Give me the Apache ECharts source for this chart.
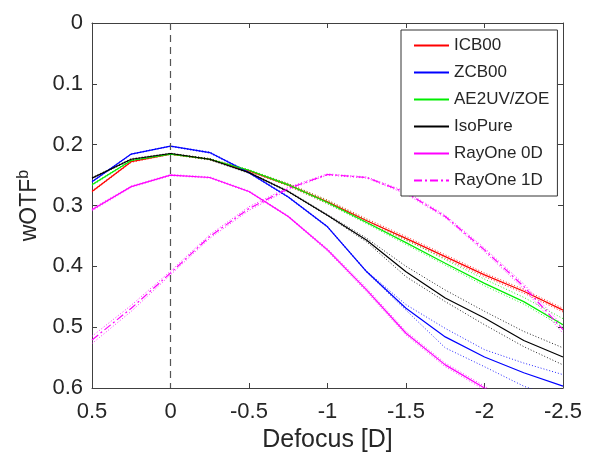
<!DOCTYPE html>
<html><head><meta charset="utf-8">
<script src="https://cdn.jsdelivr.net/npm/echarts@6/dist/echarts.min.js"></script>
<style>html,body{margin:0;padding:0;background:#fff}#c{width:596px;height:459px}</style>
</head><body><div id="c"></div>
<script>
const defocus = [0.5,0.25,0,-0.25,-0.5,-0.75,-1,-1.25,-1.5,-1.75,-2,-2.25,-2.5];
const xTicks = ['0.5','0','-0.5','-1','-1.5','-2','-2.5'];
const yTicks = ['0','0.1','0.2','0.3','0.4','0.5','0.6'];

const icb00      = [0.277,0.228,0.2155,0.224,0.243,0.266,0.294,0.325,0.354,0.384,0.414,0.441,0.472];
const icb00Hi    = [0.276,0.227,0.2150,0.223,0.242,0.264,0.291,0.322,0.351,0.381,0.411,0.438,0.469];
const icb00Lo    = [0.278,0.229,0.2160,0.225,0.244,0.268,0.297,0.328,0.357,0.387,0.417,0.444,0.475];

const zcb00      = [0.261,0.2155,0.2025,0.213,0.246,0.286,0.335,0.409,0.469,0.516,0.549,0.575,0.597];
const zcb00Hi    = [0.260,0.215,0.202,0.212,0.245,0.285,0.334,0.408,0.463,0.502,0.537,0.559,0.578];
const zcb00Lo    = [0.262,0.216,0.203,0.214,0.247,0.287,0.336,0.410,0.472,0.534,0.565,0.597,0.620];

const ae2uv      = [0.266,0.226,0.2155,0.224,0.242,0.266,0.295,0.328,0.361,0.395,0.428,0.458,0.496];
const ae2uvHi    = [0.265,0.225,0.215,0.223,0.241,0.264,0.292,0.324,0.356,0.389,0.421,0.451,0.486];
const ae2uvLo    = [0.267,0.227,0.216,0.225,0.243,0.267,0.297,0.330,0.364,0.398,0.432,0.462,0.500];

const isoPure    = [0.255,0.224,0.2145,0.224,0.246,0.277,0.316,0.357,0.409,0.452,0.485,0.522,0.549];
const isoPureHi  = [0.254,0.223,0.214,0.223,0.245,0.276,0.315,0.354,0.400,0.439,0.474,0.507,0.534];
const isoPureLo  = [0.256,0.225,0.215,0.225,0.247,0.278,0.317,0.360,0.417,0.458,0.496,0.532,0.562];

const rayOne0D   = [0.307,0.269,0.250,0.254,0.277,0.318,0.373,0.439,0.510,0.562,0.600,0.640,0.680];
const rayOne0DHi = [0.305,0.268,0.249,0.253,0.276,0.317,0.371,0.436,0.507,0.559,0.597,0.637,0.677];
const rayOne0DLo = [0.309,0.270,0.251,0.255,0.278,0.319,0.375,0.442,0.513,0.565,0.603,0.643,0.683];

const rayOne1D   = [0.521,0.469,0.411,0.351,0.305,0.272,0.249,0.254,0.279,0.318,0.373,0.433,0.504];
const rayOne1DHi = [0.515,0.464,0.408,0.348,0.302,0.270,0.248,0.253,0.277,0.316,0.370,0.429,0.498];
const rayOne1DLo = [0.527,0.474,0.414,0.354,0.308,0.274,0.250,0.255,0.281,0.320,0.376,0.437,0.510];

const pairs = (ys) => defocus.map((x,i)=>[x,ys[i]]);
const font = 'Liberation Sans, Arial, sans-serif';
const axisColor = '#404040';
const textColor = '#262626';

function mainLine(name, data, color, type){
  return {name, type:'line', data:pairs(data), symbol:'none', z:3,
    lineStyle:{color, width:1.2, type: type||'solid'}, itemStyle:{color}};
}
function dotLine(name, data, color){
  return {name, type:'line', data:pairs(data), symbol:'none', z:2, silent:true,
    lineStyle:{color, width:1, type:[1,2], opacity:0.85}, itemStyle:{color}};
}

const series = [
  mainLine('ICB00', icb00, '#ff0000'),
  mainLine('ZCB00', zcb00, '#0000ff'),
  mainLine('AE2UV/ZOE', ae2uv, '#00ee00'),
  mainLine('IsoPure', isoPure, '#000000'),
  mainLine('RayOne 0D', rayOne0D, '#ff00ff'),
  mainLine('RayOne 1D', rayOne1D, '#ff00ff', [8,3,2,3]),
  dotLine('icbHi', icb00Hi, '#ff0000'), dotLine('icbLo', icb00Lo, '#ff0000'),
  dotLine('zcbHi', zcb00Hi, '#0000ff'), dotLine('zcbLo', zcb00Lo, '#0000ff'),
  dotLine('aeHi', ae2uvHi, '#00ee00'), dotLine('aeLo', ae2uvLo, '#00ee00'),
  dotLine('isoHi', isoPureHi, '#000000'), dotLine('isoLo', isoPureLo, '#000000'),
  dotLine('r0Hi', rayOne0DHi, '#ff00ff'), dotLine('r0Lo', rayOne0DLo, '#ff00ff'),
  dotLine('r1Hi', rayOne1DHi, '#ff00ff'), dotLine('r1Lo', rayOne1DLo, '#ff00ff')
];
series[0].markLine = {silent:true, symbol:'none', label:{show:false},
  lineStyle:{color:'#555', type:[7,5], width:1.2}, data:[{xAxis:0}]};

const chart = echarts.init(document.getElementById('c'), null, {renderer:'canvas'});
chart.setOption({
  animation:false,
  backgroundColor:'#fff',
  grid:{left:92, right:33, top:23, bottom:71, show:false},
  legend:{
    data:['ICB00','ZCB00','AE2UV/ZOE','IsoPure','RayOne 0D','RayOne 1D'],
    orient:'vertical', left:401, top:30,
    itemWidth:35, itemHeight:14, itemGap:10,
    padding:[7,8,7,12],
    borderColor:'#333', borderWidth:1, backgroundColor:'#fff',
    itemStyle:{opacity:0},
    textStyle:{fontFamily:font, fontSize:17, color:textColor}
  },
  xAxis:[{
    type:'value', min:-2.5, max:0.5, interval:0.5, inverse:true,
    name:'Defocus [D]', nameLocation:'middle', nameGap:39,
    nameTextStyle:{fontFamily:font, fontSize:25, color:textColor},
    axisLine:{show:true, onZero:false, lineStyle:{color:axisColor, width:1}},
    axisTick:{show:true, inside:true, length:5, lineStyle:{color:axisColor}},
    axisLabel:{fontFamily:font, fontSize:22, color:textColor, margin:13,
      formatter:(v)=>xTicks[Math.round((0.5-v)/0.5)]},
    splitLine:{show:false}
  },{
    type:'value', min:-2.5, max:0.5, interval:0.5, inverse:true, position:'top',
    axisLine:{show:true, onZero:false, lineStyle:{color:axisColor, width:1}},
    axisTick:{show:true, inside:true, length:5, lineStyle:{color:axisColor}},
    axisLabel:{show:false}, splitLine:{show:false}
  }],
  yAxis:[{
    type:'value', min:0, max:0.6, interval:0.1, inverse:true,
    name:'{a|wOTF}{b|b}', nameLocation:'middle', nameGap:48,
    nameTextStyle:{fontFamily:font, fontSize:23, color:textColor,
      rich:{a:{fontFamily:font, fontSize:23, color:textColor},
            b:{fontFamily:font, fontSize:16, color:textColor, verticalAlign:'bottom', padding:[0,0,12,0]}}},
    axisLine:{show:true, onZero:false, lineStyle:{color:axisColor, width:1}},
    axisTick:{show:true, inside:true, length:5, lineStyle:{color:axisColor}},
    axisLabel:{fontFamily:font, fontSize:22, color:textColor, margin:9,
      formatter:(v)=>yTicks[Math.round(v*10)]},
    splitLine:{show:false}
  },{
    type:'value', min:0, max:0.6, interval:0.1, inverse:true, position:'right',
    axisLine:{show:true, onZero:false, lineStyle:{color:axisColor, width:1}},
    axisTick:{show:true, inside:true, length:5, lineStyle:{color:axisColor}},
    axisLabel:{show:false}, splitLine:{show:false}
  }],
  series
});
</script></body></html>
